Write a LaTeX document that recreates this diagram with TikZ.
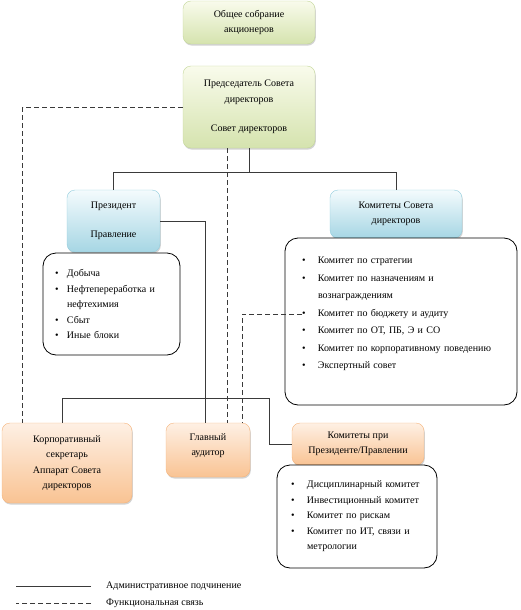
\documentclass[tikz,border=0pt]{standalone}
\usepackage{fontspec}
\setmainfont{Liberation Serif}
\usetikzlibrary{positioning,shadows}

\definecolor{grnTop}{HTML}{F9FBEC}
\definecolor{grnBot}{HTML}{D5E3AE}
\definecolor{grnLine}{HTML}{C4D79B}
\definecolor{bluTop}{HTML}{F4FBFD}
\definecolor{bluBot}{HTML}{A6D6E4}
\definecolor{bluLine}{HTML}{93CDDD}
\definecolor{orgTop}{HTML}{FEF0E4}
\definecolor{orgBot}{HTML}{F9C393}
\definecolor{orgLine}{HTML}{F5B47C}
\definecolor{lineGray}{HTML}{3A3A3A}

\newcommand{\itm}[1][12pt]{\makebox[#1][l]{\textbullet}}

\begin{document}
\begin{tikzpicture}[
x=1pt, y=-1pt,
font=\fontsize{10}{15.5}\selectfont,
box/.style={
rectangle,
rounded corners=8pt,
align=center,
inner sep=2pt,
drop shadow={opacity=0.35, shadow xshift=0.8pt, shadow yshift=-1.6pt}
},
greenbox/.style={box, draw=grnLine, top color=grnTop, bottom color=grnBot},
bluebox/.style={box, draw=bluLine, top color=bluTop, bottom color=bluBot},
orangebox/.style={box, draw=orgLine, top color=orgTop, bottom color=orgBot},
listbox/.style={
rectangle,
draw=black,
line width=0.8pt,
fill=white,
rounded corners=13pt,
align=left
},
admin/.style={draw=lineGray, line width=0.9pt},
func/.style={admin, dash pattern=on 5pt off 3pt}
]
\useasboundingbox (0,0) rectangle (521,610);

% top levels
\node[greenbox, minimum width=132pt, minimum height=43pt] (gsm) at (249,22.5) {Общее собрание\\акционеров};
\node[greenbox, minimum width=132pt, minimum height=82pt] (ch) at (249,107) {Председатель Совета\\директоров\\[14pt]Совет директоров};

% president
\node[bluebox, minimum width=93pt, minimum height=62pt] (pres) at (113.5,221) {Президент\\[14pt]Правление};
\node[listbox, minimum width=137pt, minimum height=102pt, text width=113pt, inner xsep=12pt] (presl) at (111.5,304)
{\itm Добыча\\
\itm Нефтепереработка и\\
\hspace*{12pt}нефтехимия\\
\itm Сбыт\\
\itm Иные блоки};

% committees of the board
\node[bluebox, minimum width=132pt, minimum height=48pt] (kbd) at (396,214) {Комитеты Совета\\директоров};
\node[listbox, minimum width=232pt, minimum height=167pt, text width=198pt, inner xsep=17pt,
font=\fontsize{10}{17.5}\selectfont] (kbdl) at (401,321.5)
{\itm[16pt]Комитет по стратегии\\
\itm[16pt]Комитет по назначениям и\\
\hspace*{16pt}вознаграждениям\\
\itm[16pt]Комитет по бюджету и аудиту\\
\itm[16pt]Комитет по ОТ, ПБ, Э и СО\\
\itm[16pt]Комитет по корпоративному поведению\\
\itm[16pt]Экспертный совет\\
\mbox{}};
\coordinate (kba) at (302,314);

% lower level
\node[orangebox, minimum width=130pt, minimum height=80pt] (sec) at (67,463) {Корпоративный\\секретарь\\Аппарат Совета\\директоров};
\node[orangebox, minimum width=84pt, minimum height=54pt] (aud) at (208,450) {Главный\\аудитор\\[-5pt]\mbox{}};
\node[orangebox, minimum width=132pt, minimum height=42pt] (kp) at (358,444) {Комитеты при\\Президенте/Правлении};
\node[listbox, minimum width=160pt, minimum height=103pt, text width=132pt, inner xsep=14pt] (kpl) at (357,516.5)
{\itm[16pt]Дисциплинарный комитет\\
\itm[16pt]Инвестиционный комитет\\
\itm[16pt]Комитет по рискам\\
\itm[16pt]Комитет по ИТ, связи и\\
\hspace*{16pt}метрологии};

% connectors
\coordinate (busR) at (269,398);
\draw[admin] (ch.south) -- ++(0,24) -| (pres.north);
\draw[admin] (ch.south) ++(0,24) -| (kbd.north);
\draw[admin] (pres.east) -| ([xshift=-3pt]aud.north);
\draw[admin] ([xshift=-5pt]sec.north) |- (busR) |- (kp.west);
\draw[func] (ch.west) -| ([xshift=21pt]sec.north west);
\draw[func] ([xshift=-22pt]ch.south) -- ([xshift=-22pt]ch.south |- aud.north);
\draw[func] (kba) -| ([xshift=34pt]aud.north);

% legend
\node[anchor=west, inner sep=0pt] (lgA) at (106,586) {Административное подчинение};
\node[anchor=west, inner sep=0pt] (lgF) at (106,603) {Функциональная связь};
\draw[admin] ([xshift=-15pt]lgA.west) -- ++(-75,0);
\draw[func] ([xshift=-15pt]lgF.west) -- ++(-75,0);

\end{tikzpicture}
\end{document}
